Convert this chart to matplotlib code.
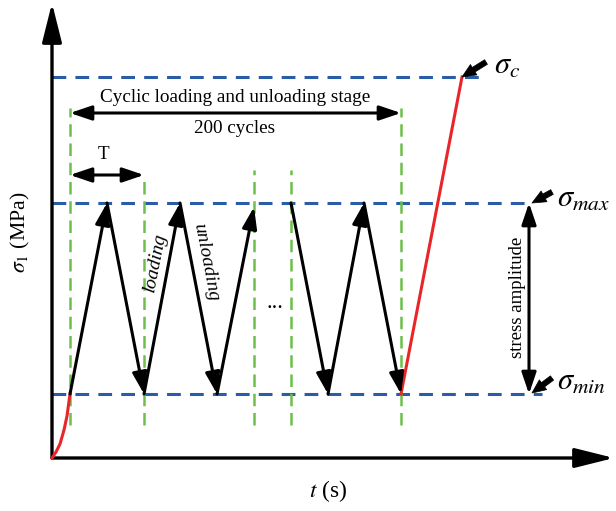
import matplotlib
matplotlib.use('Agg')
import matplotlib.pyplot as plt

plt.rcParams['font.family'] = ['Liberation Serif', 'DejaVu Serif']
plt.rcParams['mathtext.fontset'] = 'stix'

# stress levels (schematic units)
sigma_min = 64
sigma_max = 255
sigma_c = 381

# cyclic stage: time of each turning point
t_first = [18, 55, 92, 128, 165, 202]
s_first = [sigma_min, sigma_max, sigma_min, sigma_max, sigma_min, sigma_max - 4]
t_last = [239, 276, 312, 349]
s_last = [sigma_max, sigma_min, sigma_max, sigma_min]

# initial loading curve and final loading to failure
t_init = [0, 4, 8, 12, 15, 18]
s_init = [0, 6, 14, 28, 42, 64]
t_fail = [349, 410]
s_fail = [sigma_min, sigma_c]

# green guide lines: time, top
guide_t = [18, 92, 202, 239, 349]
guide_top = [350, 283, 288, 288, 350]
guide_bottom = 33

t_end_axis = 562
s_end_axis = 455

BLUE = '#2a5ca8'
GREEN = '#6cbf4a'
RED = '#e8262a'

fig = plt.figure(figsize=(6.16, 5.11), dpi=100)
ax = fig.add_axes([0, 0, 1, 1])
ax.set_xlim(-52, 564)
ax.set_ylim(-53, 458)
ax.axis('off')

HEAD = '-|>,head_length=0.65,head_width=0.22'
HEAD2 = '<|-|>,head_length=0.65,head_width=0.22'


def arrow(p0, p1, lw=2.2, scale=20, style=HEAD, color='k'):
    ax.annotate('', xy=p1, xytext=p0,
                arrowprops=dict(arrowstyle=style, color=color, lw=lw,
                                mutation_scale=scale, shrinkA=0, shrinkB=0))


def pointer(p0, p1):
    ax.annotate('', xy=p1, xytext=p0,
                arrowprops=dict(arrowstyle='simple,head_length=0.9,head_width=0.8,tail_width=0.35',
                                color='k', lw=0.5, mutation_scale=11, shrinkA=0, shrinkB=0))


# axes
arrow((0, 0), (0, s_end_axis), lw=2.4, scale=30, style='-|>,head_length=0.8,head_width=0.2')
arrow((0, 0), (t_end_axis, 0), lw=2.4, scale=30, style='-|>,head_length=0.8,head_width=0.2')

# horizontal dashed levels
ax.plot([0, 428], [sigma_c, sigma_c], color=BLUE, lw=2.2, ls=(0, (4.5, 3)), zorder=1)
ax.plot([0, 480], [sigma_max, sigma_max], color=BLUE, lw=2.2, ls=(0, (4.5, 3)), zorder=1)
ax.plot([0, 490], [sigma_min, sigma_min], color=BLUE, lw=2.2, ls=(0, (4.5, 3)), zorder=1)

# vertical green guides
for t, top in zip(guide_t, guide_top):
    ax.plot([t, t], [guide_bottom, top], color=GREEN, lw=1.8, ls=(0, (5, 2.7)), zorder=1)

# red curves
ax.plot(t_init, s_init, color=RED, lw=2.2, zorder=3)
ax.plot(t_fail, s_fail, color=RED, lw=2.2, zorder=3)

# zigzag arrows
for seq_t, seq_s in [(t_first, s_first), (t_last, s_last)]:
    for i in range(len(seq_t) - 1):
        arrow((seq_t[i], seq_s[i]), (seq_t[i + 1], seq_s[i + 1]))

ax.text(223, 155, '...', fontsize=16, ha='center', va='center')

# stage arrows
arrow((18, 345), (349, 345), style=HEAD2)
ax.text(183, 361, 'Cyclic loading and unloading stage', fontsize=13.8, ha='center', va='center')
ax.text(183, 330, '200 cycles', fontsize=13.8, ha='center', va='center')
arrow((18, 283), (92, 283), style=HEAD2)
ax.text(51, 304, 'T', fontsize=13.8, ha='center', va='center')

ax.text(103, 196, 'loading', fontsize=14, style='italic', rotation=79,
        ha='center', va='center', rotation_mode='anchor')
ax.text(154, 196, 'unloading', fontsize=14, style='italic', rotation=-79,
        ha='center', va='center', rotation_mode='anchor')

# stress amplitude
arrow((477, sigma_min), (477, sigma_max), style=HEAD2)
ax.text(466, 161, 'stress amplitude', fontsize=13.5, rotation=90, ha='center', va='center')

# level labels
pointer((434, 396), (410, 381))
ax.text(442, 392, r'$\sigma_c$', fontsize=22, ha='left', va='center')
pointer((500, 266), (480, 255))
ax.text(505, 259, r'$\sigma_{max}$', fontsize=22, ha='left', va='center')
pointer((500, 80), (480, 65))
ax.text(505, 76, r'$\sigma_{min}$', fontsize=22, ha='left', va='center')

# axis labels
ax.text(-32, 226, r'$\sigma_1$ (MPa)', fontsize=15.7, rotation=90, ha='center', va='center')
ax.text(276, -33, r'$t$ (s)', fontsize=16.8, ha='center', va='center')

fig.savefig('out.png', dpi=100)
